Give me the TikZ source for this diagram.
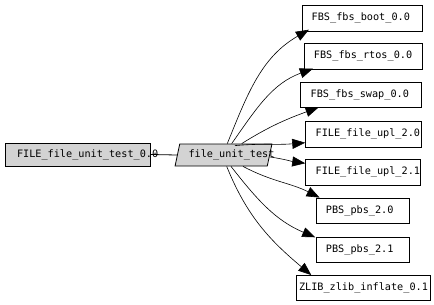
\documentclass[tikz,border=0pt]{standalone}
\usepackage{fontspec}
\newfontfamily\pkgfont{DejaVu Sans Mono}
\usetikzlibrary{shapes.geometric, arrows.meta}
\definecolor{nodegray}{HTML}{D3D3D3}

\begin{document}
\begin{tikzpicture}[x=1pt, y=-1pt, line width=0.8pt,
    pkg/.style={draw, rectangle, font=\pkgfont\fontsize{10.2}{12}\selectfont, align=left, inner ysep=0pt},
    hubbox/.style={draw, fill=nodegray, trapezium, trapezium left angle=70, trapezium right angle=110,
        trapezium stretches=true, font=\pkgfont\fontsize{10.2}{12}\selectfont, align=left, inner xsep=0pt, inner ysep=0pt},
    dep/.style={-{Triangle[length=13pt, width=10pt]}, line width=0.6pt}]
\useasboundingbox (0,0) rectangle (434,305);

\node[pkg, fill=nodegray, minimum width=145pt, minimum height=23pt, inner xsep=12pt, text width=121pt] (src) at (77.5,154.5) {FILE\_file\_unit\_test\_0.0};
\node[hubbox, minimum width=97pt, minimum height=22pt, text width=70pt] (hub) at (223.5,155) {file\_unit\_test};

\node[pkg, minimum width=120pt, minimum height=26pt, inner xsep=9pt, text width=102pt] (boot) at (362.7,18) {FBS\_fbs\_boot\_0.0};
\node[pkg, minimum width=118.7pt, minimum height=26pt, inner xsep=10pt, text width=98.7pt] (rtos) at (363.3,56) {FBS\_fbs\_rtos\_0.0};
\node[pkg, minimum width=121pt, minimum height=25pt, inner xsep=10.7pt, text width=99.6pt] (swap) at (360.5,94.5) {FBS\_fbs\_swap\_0.0};
\node[pkg, minimum width=115.3pt, minimum height=26pt, inner xsep=10pt, text width=95.3pt] (upla) at (363.3,134) {FILE\_file\_upl\_2.0};
\node[pkg, minimum width=114.3pt, minimum height=26pt, inner xsep=10pt, text width=94.3pt] (uplb) at (362.8,172) {FILE\_file\_upl\_2.1};
\node[pkg, minimum width=92.3pt, minimum height=25pt, inner xsep=9.3pt, text width=73.7pt] (pbsa) at (362.8,210.5) {PBS\_pbs\_2.0};
\node[pkg, minimum width=92.3pt, minimum height=25pt, inner xsep=9.3pt, text width=73.7pt] (pbsb) at (362.8,250.2) {PBS\_pbs\_2.1};
\node[pkg, minimum width=134pt, minimum height=25pt, inner xsep=3pt, text width=128pt] (zlib) at (363,288) {ZLIB\_zlib\_inflate\_0.1};

% source to test
\draw (src.east)--(hub.west);

% dependencies of the test
\draw[dep] ([xshift=3.8pt]hub.north) to[out=68, in=210] ([xshift=6.6pt, yshift=1.7pt]boot.south west);
\draw[dep] ([xshift=8.2pt]hub.north) to[out=55, in=200] ([xshift=9.3pt, yshift=0.7pt]rtos.south west);
\draw[dep] ([xshift=18.2pt]hub.north) to[out=32, in=200] ([xshift=19pt]swap.south west);
\draw[dep] ([yshift=-2pt]hub.north east) to[out=5, in=185] ([yshift=-8.7pt]upla.west);
\draw[dep] ([yshift=-2pt]hub.east) to[out=-8, in=172] ([yshift=8.7pt]uplb.west);
\draw[dep] ([xshift=19.5pt]hub.south) to[out=-28, in=153] ([xshift=3.3pt]pbsa.north west);
\draw[dep] ([xshift=7.5pt]hub.south) to[out=-52, in=157] ([xshift=-1pt]pbsb.north west);
\draw[dep] ([xshift=3.2pt]hub.south) to[out=-68, in=140] ([xshift=15.7pt]zlib.north west);
\end{tikzpicture}
\end{document}
